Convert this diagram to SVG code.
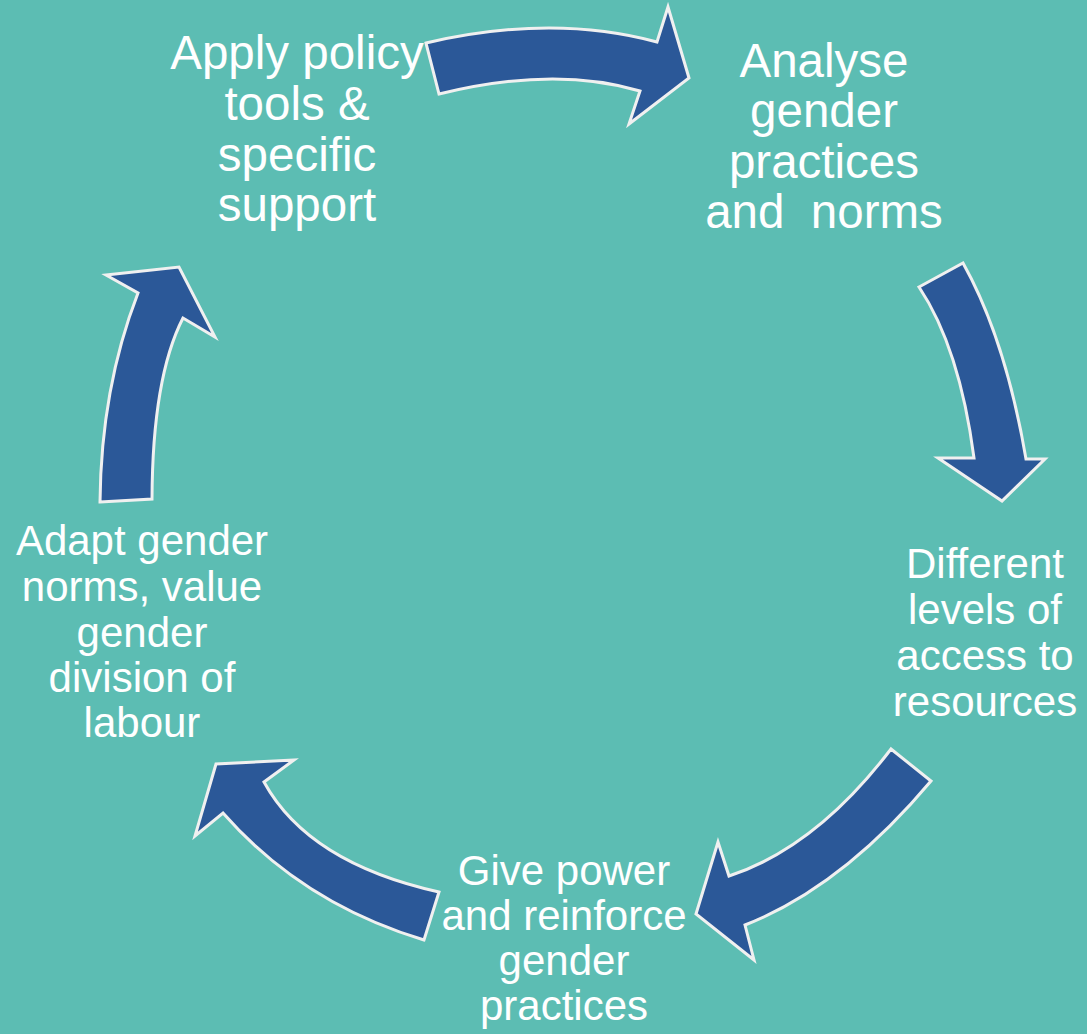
<svg xmlns="http://www.w3.org/2000/svg" width="1087" height="1034" viewBox="0 0 1087 1034">
<style>
.arrow{fill:#2B5898;stroke:#F0F0F0;stroke-width:3;stroke-linejoin:miter}
.lbl{fill:#FFFFFF;font-family:"Liberation Sans",Arial,sans-serif;text-anchor:middle}
.big{font-size:47.5px}
.med{font-size:42px}
</style>
<rect x="0" y="0" width="1087" height="1034" fill="#5CBDB3"/>
<g id="connectors">
<path class="arrow" d="M426,43 Q552.5,13.5 657,42 L668,7 L689,78 L629,124 L640,91 Q554.5,65.5 439,94 Z"/>
<path class="arrow" d="M919,287 L963,263 Q1005.5,339 1026,459 L1045,459 L1002,501 L938,458 L974,458 Q959.5,347.5 919,287 Z"/>
<path class="arrow" d="M891,749 L931,781 Q842,887 745,925 L754,960 L696,914 L718,842 L729,876 Q816,847.5 891,749 Z"/>
<path class="arrow" d="M439,892 L424,940 Q302.5,903.5 223,813 L195,836 L216,764 L294,760 L264,782 Q308.5,863 439,892 Z"/>
<path class="arrow" d="M100,502 L152,499 Q152.5,377.5 183,318 L215,337 L179,267 L106,275 L138,293 Q101,388.5 100,502 Z"/>
</g>
<g id="node-apply">
<text class="lbl big" x="297" y="69">Apply policy</text>
<text class="lbl big" x="297" y="120">tools &amp;</text>
<text class="lbl big" x="297" y="171">specific</text>
<text class="lbl big" x="297" y="221">support</text>
</g>
<g id="node-analyse">
<text class="lbl big" x="824" y="77">Analyse</text>
<text class="lbl big" x="824" y="127">gender</text>
<text class="lbl big" x="824" y="178">practices</text>
<text class="lbl big" x="824" y="228" xml:space="preserve">and  norms</text>
</g>
<g id="node-different">
<text class="lbl med" x="985" y="578">Different</text>
<text class="lbl med" x="985" y="624">levels of</text>
<text class="lbl med" x="985" y="670">access to</text>
<text class="lbl med" x="985" y="716">resources</text>
</g>
<g id="node-give">
<text class="lbl med" x="564" y="885">Give power</text>
<text class="lbl med" x="564" y="930">and reinforce</text>
<text class="lbl med" x="564" y="975">gender</text>
<text class="lbl med" x="564" y="1020">practices</text>
</g>
<g id="node-adapt">
<text class="lbl med" x="142" y="555">Adapt gender</text>
<text class="lbl med" x="142" y="601">norms, value</text>
<text class="lbl med" x="142" y="647">gender</text>
<text class="lbl med" x="142" y="692">division of</text>
<text class="lbl med" x="142" y="737">labour</text>
</g>
</svg>
